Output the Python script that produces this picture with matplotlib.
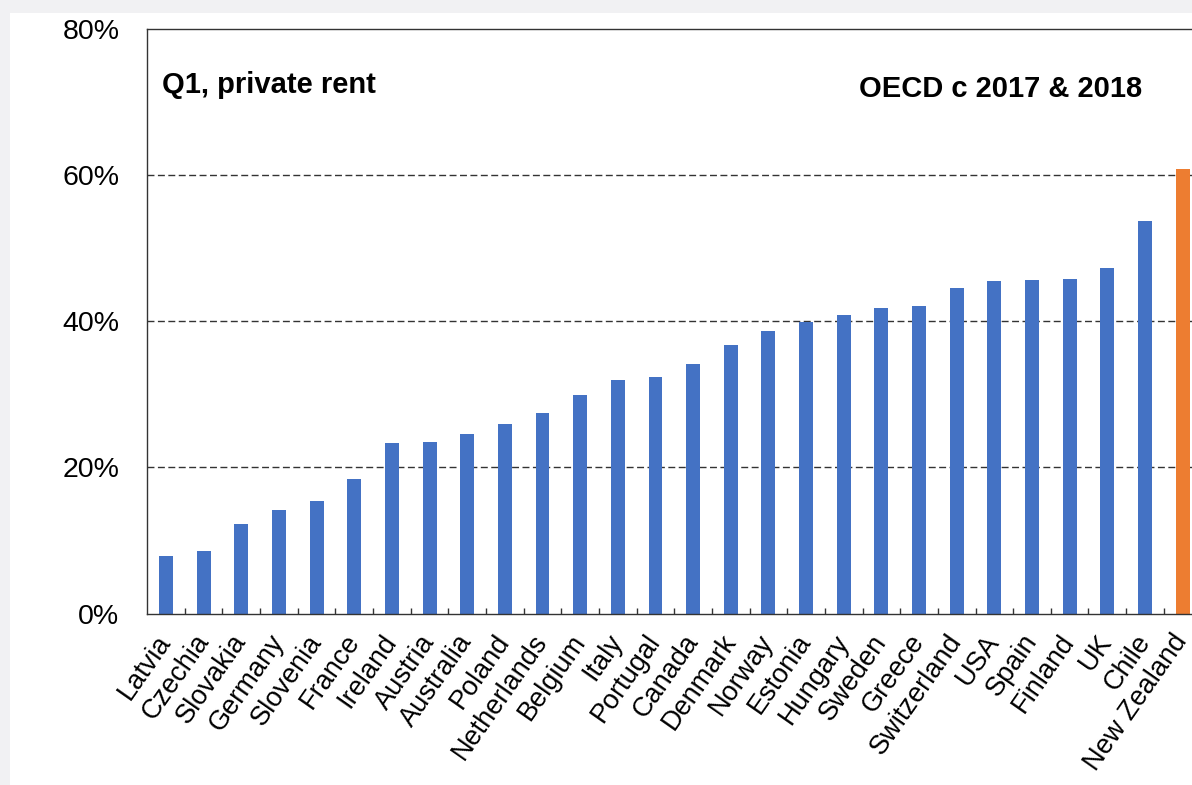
import numpy as np
import matplotlib
matplotlib.use('Agg')
import matplotlib.pyplot as plt
from matplotlib.patches import Rectangle
from matplotlib.ticker import FixedLocator, PercentFormatter

plt.rcParams['font.family'] = ['Liberation Sans', 'DejaVu Sans']

countries = ['Latvia', 'Czechia', 'Slovakia', 'Germany', 'Slovenia', 'France',
             'Ireland', 'Austria', 'Australia', 'Poland', 'Netherlands', 'Belgium',
             'Italy', 'Portugal', 'Canada', 'Denmark', 'Norway', 'Estonia',
             'Hungary', 'Sweden', 'Greece', 'Switzerland', 'USA', 'Spain',
             'Finland', 'UK', 'Chile', 'New Zealand']
share = [7.9, 8.5, 12.2, 14.2, 15.4, 18.4,
         23.3, 23.5, 24.6, 26.0, 27.5, 29.9,
         31.9, 32.4, 34.2, 36.7, 38.6, 39.9,
         40.9, 41.8, 42.1, 44.6, 45.5, 45.7,
         45.8, 47.3, 53.7, 60.8]
highlight = 'New Zealand'
yticks = [0, 20, 40, 60, 80]
gridlines = [20, 40, 60]

W, H = 1192, 785
fig = plt.figure(figsize=(W / 100, H / 100), dpi=100)
fig.patch.set_facecolor('#f1f1f3')
fig.add_artist(Rectangle((10 / W, 0), 1 - 10 / W, 1 - 13 / H,
                         transform=fig.transFigure, facecolor='white',
                         edgecolor='none', zorder=0))

# axes run past the right edge of the canvas
ax = fig.add_axes([147.2 / W, (H - 613.5) / H, 28 * 37.65 / W, 584.5 / H])
ax.set_facecolor('white')

x = np.arange(len(countries))
colors = ['#ed7d31' if c == highlight else '#4472c4' for c in countries]
ax.bar(x, share, width=0.37, color=colors, zorder=2)

for g in gridlines:
    ax.axhline(g, color='#333333', lw=1.0, linestyle=(0, (5, 2.5)), zorder=1)

ax.set_xlim(-0.5, len(countries) - 0.5)
ax.set_ylim(0, 80)
ax.set_yticks(yticks)
ax.yaxis.set_major_formatter(PercentFormatter(decimals=0))
ax.tick_params(axis='y', length=0, pad=20, labelsize=20.5)

ax.set_xticks(x)
ax.set_xticklabels(countries, rotation=55, ha='right', va='center',
                   rotation_mode='anchor', fontsize=19.5)
ax.tick_params(axis='x', which='major', length=0, pad=17)
ax.xaxis.set_minor_locator(FixedLocator(np.arange(0.5, len(countries) - 1, 1)))
ax.tick_params(axis='x', which='minor', direction='in', length=4.5,
               width=1.0, color='#333333')

for side in ['left', 'bottom', 'top', 'right']:
    ax.spines[side].set_color('#333333')
    ax.spines[side].set_linewidth(1.0)

fig.text(162 / W, 1 - 93 / H, 'Q1, private rent', fontsize=21,
         fontweight='bold', ha='left', va='baseline')
fig.text(1142 / W, 1 - 97 / H, 'OECD c 2017 & 2018', fontsize=21,
         fontweight='bold', ha='right', va='baseline')

fig.savefig('out.png', dpi=100, facecolor=fig.get_facecolor())
